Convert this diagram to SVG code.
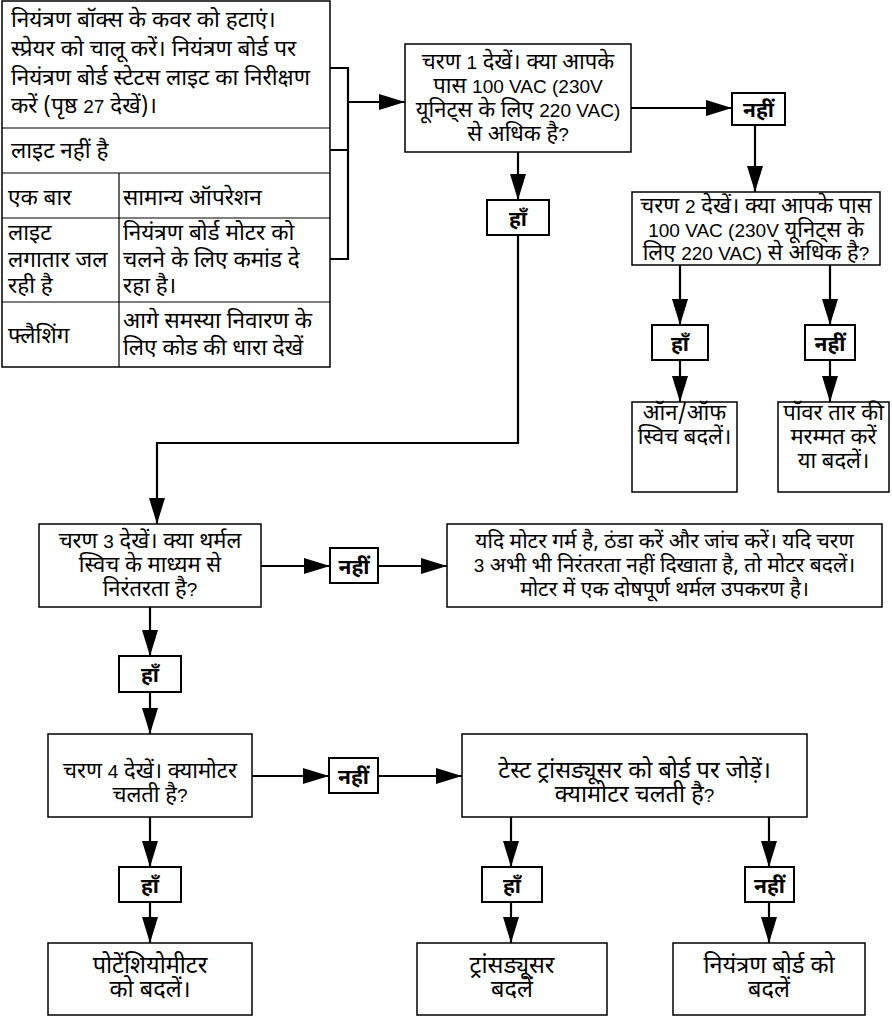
<svg xmlns="http://www.w3.org/2000/svg" width="892" height="1016" viewBox="0 0 892 1016">
<defs>
<marker id="ah" markerUnits="userSpaceOnUse" markerWidth="26" markerHeight="16" refX="26" refY="8" orient="auto"><path d="M0,0 L26,8 L0,16 Z" fill="#000"/></marker>
<style>
.box{fill:#fff;stroke:#000;stroke-width:1.5}
.lbl{fill:#fff;stroke:#000;stroke-width:2}
.ln{fill:none;stroke:#000;stroke-width:1.2}
.c{fill:none;stroke:#000;stroke-width:2.2}
text{font-family:"Noto Sans Devanagari","Noto Sans",sans-serif;font-size:22px;fill:#000}
.lat{font-family:"Liberation Sans",Arial,sans-serif;font-size:19px}
.m{text-anchor:middle}
.b{font-weight:bold;font-size:21px}
.t{font-size:22.5px}
.s{font-size:21px}
.g{font-size:23.5px}
</style>
</defs>
<rect width="892" height="1016" fill="#fff"/>
<g id="table">
<rect x="2" y="1" width="328" height="366" class="box" stroke-width="1.2"/>
<path class="ln" d="M2,128 H330 M2,173 H330 M2,218 H330 M2,302 H330 M119,173 V367"/>
<text class="t" x="11" y="27">नियंत्रण बॉक्स के कवर को हटाएं।</text>
<text class="t" x="11" y="56">स्प्रेयर को चालू करें। नियंत्रण बोर्ड पर</text>
<text class="t" x="11" y="85">नियंत्रण बोर्ड स्टेटस लाइट का निरीक्षण</text>
<text class="t" x="11" y="113">करें (पृष्ठ <tspan class="lat">27</tspan> देखें)।</text>
<text class="t" x="11" y="158">लाइट नहीं है</text>
<text class="t" x="8" y="205">एक बार</text>
<text class="t" x="123" y="205">सामान्य ऑपरेशन</text>
<text class="t" x="8" y="240">लाइट</text>
<text class="t" x="8" y="267">लगातार जल</text>
<text class="t" x="8" y="293">रही है</text>
<text class="t" x="123" y="240">नियंत्रण बोर्ड मोटर को</text>
<text class="t" x="123" y="267">चलने के लिए कमांड दे</text>
<text class="t" x="123" y="293">रहा है।</text>
<text class="t" x="8" y="343">फ्लैशिंग</text>
<text class="t" x="123" y="328">आगे समस्या निवारण के</text>
<text class="t" x="123" y="355">लिए कोड की धारा देखें</text>
</g>
<g id="step1">
<rect x="405" y="44" width="226" height="108" class="box"/>
<text class="m" x="518" y="69">चरण <tspan class="lat">1</tspan> देखें। क्या आपके</text>
<text class="m" x="518" y="93">पास <tspan class="lat">100 VAC (230V</tspan></text>
<text class="m" x="518" y="117">यूनिट्स के लिए <tspan class="lat">220 VAC)</tspan></text>
<text class="m" x="518" y="141">से अधिक है<tspan class="lat">?</tspan></text>
</g>
<g id="no1">
<rect x="732" y="93" width="53" height="32" class="lbl"/>
<text class="m b" x="758.5" y="117">नहीं</text>
</g>
<g id="step2">
<rect x="632" y="192" width="248" height="73" class="box"/>
<text class="m" x="756" y="213">चरण <tspan class="lat">2</tspan> देखें। क्या आपके पास</text>
<text class="m" x="756" y="237"><tspan class="lat">100 VAC (230V</tspan> यूनिट्स के</text>
<text class="m" x="756" y="260">लिए <tspan class="lat">220 VAC)</tspan> से अधिक है<tspan class="lat">?</tspan></text>
</g>
<g id="yes2">
<rect x="652" y="325" width="56" height="35" class="lbl"/>
<text class="m b" x="680" y="351">हाँ</text>
</g>
<g id="no2">
<rect x="805" y="325" width="50" height="35" class="lbl"/>
<text class="m b" x="830" y="351">नहीं</text>
</g>
<g id="onoff">
<rect x="632" y="402" width="105" height="90" class="box"/>
<text class="m" x="684.5" y="420">ऑन/ऑफ</text>
<text class="m" x="684.5" y="444">स्विच बदलें।</text>
</g>
<g id="power">
<rect x="778" y="402" width="111" height="90" class="box"/>
<text class="m" x="833.5" y="420">पॉवर तार की</text>
<text class="m" x="833.5" y="444">मरम्मत करें</text>
<text class="m" x="833.5" y="468">या बदलें।</text>
</g>
<g id="yes1">
<rect x="487" y="200" width="62" height="35" class="lbl"/>
<text class="m b" x="518" y="226">हाँ</text>
</g>
<g id="step3">
<rect x="39" y="524" width="222" height="83" class="box"/>
<text class="m" x="150" y="548">चरण <tspan class="lat">3</tspan> देखें। क्या थर्मल</text>
<text class="m" x="150" y="572">स्विच के माध्यम से</text>
<text class="m" x="150" y="596">निरंतरता है<tspan class="lat">?</tspan></text>
</g>
<g id="no3">
<rect x="330" y="548" width="48" height="35" class="lbl"/>
<text class="m b" x="354" y="574">नहीं</text>
</g>
<g id="motorhot">
<rect x="447" y="524" width="435" height="83" class="box"/>
<text class="m s" x="664.5" y="548">यदि मोटर गर्म है, ठंडा करें और जांच करें। यदि चरण</text>
<text class="m s" x="664.5" y="572"><tspan class="lat">3</tspan> अभी भी निरंतरता नहीं दिखाता है, तो मोटर बदलें।</text>
<text class="m s" x="664.5" y="596">मोटर में एक दोषपूर्ण थर्मल उपकरण है।</text>
</g>
<g id="yes3">
<rect x="119" y="656" width="62" height="36" class="lbl"/>
<text class="m b" x="150" y="682">हाँ</text>
</g>
<g id="step4">
<rect x="48" y="734" width="204" height="83" class="box"/>
<text class="m" x="150" y="778">चरण <tspan class="lat">4</tspan> देखें। क्यामोटर</text>
<text class="m" x="150" y="802">चलती है<tspan class="lat">?</tspan></text>
</g>
<g id="no4">
<rect x="329" y="758" width="49" height="35" class="lbl"/>
<text class="m b" x="353.5" y="784">नहीं</text>
</g>
<g id="test">
<rect x="462" y="734" width="345" height="83" class="box"/>
<text class="m g" x="634.5" y="778">टेस्ट ट्रांसड्यूसर को बोर्ड पर जोड़ें।</text>
<text class="m g" x="634.5" y="802">क्यामोटर चलती है<tspan class="lat">?</tspan></text>
</g>
<g id="yes4">
<rect x="119" y="867" width="62" height="35" class="lbl"/>
<text class="m b" x="150" y="893">हाँ</text>
</g>
<g id="yes5">
<rect x="482" y="867" width="60" height="35" class="lbl"/>
<text class="m b" x="512" y="893">हाँ</text>
</g>
<g id="no5">
<rect x="745" y="867" width="49" height="35" class="lbl"/>
<text class="m b" x="769.5" y="893">नहीं</text>
</g>
<g id="pot">
<rect x="48" y="943" width="204" height="72" class="box"/>
<text class="m g" x="150" y="973">पोटेंशियोमीटर</text>
<text class="m g" x="150" y="997">को बदलें।</text>
</g>
<g id="trans">
<rect x="417" y="943" width="190" height="72" class="box"/>
<text class="m g" x="512" y="973">ट्रांसड्यूसर</text>
<text class="m g" x="512" y="997">बदलें</text>
</g>
<g id="board">
<rect x="673" y="943" width="192" height="72" class="box"/>
<text class="m g" x="769" y="973">नियंत्रण बोर्ड को</text>
<text class="m g" x="769" y="997">बदलें</text>
</g>
<g id="connectors">
<path class="c" d="M330,68 H348 V259 H330 M330,150 H348"/>
<path class="c" marker-end="url(#ah)" d="M348,102 H405"/>
<path class="c" marker-end="url(#ah)" d="M631,108 H732"/>
<path class="c" marker-end="url(#ah)" d="M755,125 V192"/>
<path class="c" marker-end="url(#ah)" d="M680,265 V325"/>
<path class="c" marker-end="url(#ah)" d="M680,360 V402"/>
<path class="c" marker-end="url(#ah)" d="M830,265 V325"/>
<path class="c" marker-end="url(#ah)" d="M830,360 V402"/>
<path class="c" marker-end="url(#ah)" d="M518,152 V200"/>
<path class="c" marker-end="url(#ah)" d="M518,235 V443 H157 V524"/>
<path class="c" marker-end="url(#ah)" d="M261,566 H330"/>
<path class="c" marker-end="url(#ah)" d="M378,566 H447"/>
<path class="c" marker-end="url(#ah)" d="M150,607 V656"/>
<path class="c" marker-end="url(#ah)" d="M150,692 V734"/>
<path class="c" marker-end="url(#ah)" d="M252,776 H329"/>
<path class="c" marker-end="url(#ah)" d="M378,776 H462"/>
<path class="c" marker-end="url(#ah)" d="M150,817 V867"/>
<path class="c" marker-end="url(#ah)" d="M150,902 V943"/>
<path class="c" marker-end="url(#ah)" d="M511,817 V867"/>
<path class="c" marker-end="url(#ah)" d="M511,902 V943"/>
<path class="c" marker-end="url(#ah)" d="M769,817 V867"/>
<path class="c" marker-end="url(#ah)" d="M769,902 V943"/>
</g>
</svg>
